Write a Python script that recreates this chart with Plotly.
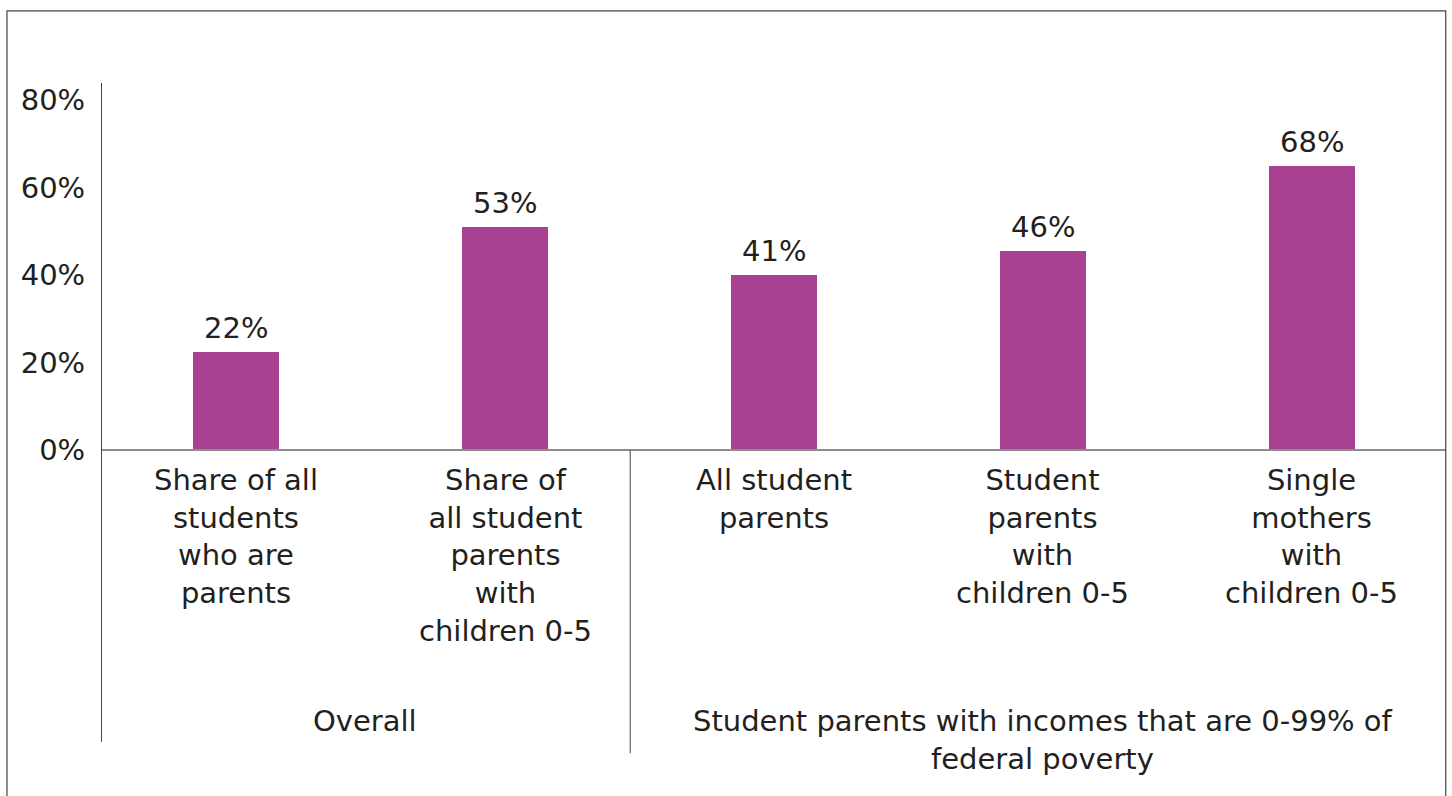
import plotly.graph_objects as go

categories = [
    "Share of all<br>students<br>who are<br>parents",
    "Share of<br>all student<br>parents<br>with<br>children 0-5",
    "All student<br>parents",
    "Student<br>parents<br>with<br>children 0-5",
    "Single<br>mothers<br>with<br>children 0-5",
]
values = [22.4, 51.0, 40.0, 45.5, 65.0]
value_labels = ["22%", "53%", "41%", "46%", "68%"]
groups = ["Overall", "Student parents with incomes that are 0-99% of<br>federal poverty"]
group_centers = [0.48, 3.0]
y_ticks = [0, 20, 40, 60, 80]
y_tick_labels = ["0%", "20%", "40%", "60%", "80%"]

FONT = "DejaVu Sans"
TXT = "#231f20"
BAR = "#a84192"
FS = 29

x = list(range(len(categories)))

fig = go.Figure()
fig.add_trace(go.Bar(
    x=x, y=values, width=0.32, marker=dict(color=BAR, line=dict(width=0)),
    hoverinfo="skip", showlegend=False,
))

annotations = []
for xi, v, lab in zip(x, values, value_labels):
    annotations.append(dict(x=xi, y=v, xref="x", yref="y", text=lab, showarrow=False,
                            yanchor="bottom", yshift=5, font=dict(family=FONT, size=FS, color=TXT)))
for xi, c in zip(x, categories):
    annotations.append(dict(x=xi, y=-2.6, xref="x", yref="y", text=c, showarrow=False,
                            yanchor="top", align="center", font=dict(family=FONT, size=FS, color=TXT)))
for gc, g in zip(group_centers, groups):
    annotations.append(dict(x=gc, y=-57.5, xref="x", yref="y", text=g, showarrow=False,
                            yanchor="top", align="center", font=dict(family=FONT, size=FS, color=TXT)))

shapes = [
    # zero line
    dict(type="line", xref="paper", yref="y", x0=0, x1=1, y0=0, y1=0,
         line=dict(color="#8c8c8c", width=2), layer="above"),
    # group divider
    dict(type="line", xref="x", yref="paper", x0=1.465, x1=1.465, y0=1 - (450 - 83) / 659, y1=-0.017,
         line=dict(color="#444444", width=1)),
    # outer border
    dict(type="rect", xref="paper", yref="paper", x0=-0.0707, x1=0.9998, y0=-0.12, y1=1.1095,
         line=dict(color="#444444", width=1.2)),
]

fig.update_layout(
    width=1452, height=796,
    margin=dict(l=102, r=6, t=83, b=54),
    paper_bgcolor="white", plot_bgcolor="white",
    font=dict(family=FONT, size=FS, color=TXT),
    xaxis=dict(range=[-0.5, 4.5], showticklabels=False, showgrid=False, zeroline=False,
               showline=False, ticks=""),
    yaxis=dict(range=[-66.74, 83.89], tickvals=y_ticks, ticktext=y_tick_labels,
               showgrid=False, zeroline=False, showline=True, linecolor="#444444", linewidth=1,
               ticks="", ticklabelstandoff=10, tickfont=dict(family=FONT, size=FS, color=TXT)),
    annotations=annotations,
    shapes=shapes,
    bargap=0,
)

fig.write_html("out.html")
